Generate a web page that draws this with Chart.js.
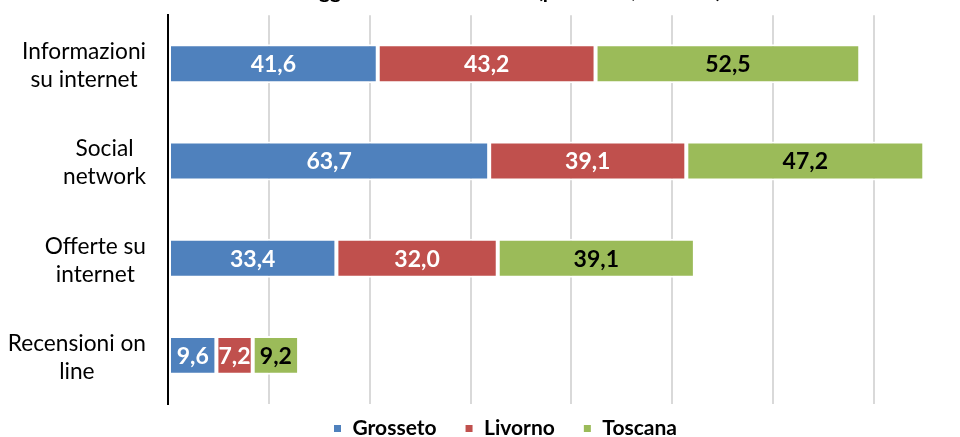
<!DOCTYPE html>
<html>
<head>
<meta charset="utf-8">
<script src="https://cdn.jsdelivr.net/npm/chart.js@4/dist/chart.umd.min.js"></script>
<style>
  html, body { margin: 0; padding: 0; background: #ffffff; overflow: hidden; width: 960px; height: 437px; }
  #wrap { position: absolute; left: 0; top: -30px; width: 1010px; height: 493px; }
  canvas { display: block; }
</style>
</head>
<body>
<div id="wrap"><canvas id="c" width="1010" height="493"></canvas></div>
<script>
const titleText = "Viaggi: strumenti utilizzati (per cento, valori %)";
const categories = [["Informazioni", "su internet"], ["Social", "network"], ["Offerte su", "internet"], ["Recensioni on", "line"]];
const seriesNames = ["Grosseto", "Livorno", "Toscana"];
const grosseto = [41.6, 63.7, 33.4, 9.6];
const livorno = [43.2, 39.1, 32.0, 7.2];
const toscana = [52.5, 47.2, 39.1, 9.2];
const xMin = 0, xMax = 167, xStep = 20;

const colors = ["#4F81BD", "#C0504D", "#9BBB59"];
const labelColors = ["#ffffff", "#ffffff", "#000000"];
const FONT = "Lato, 'Liberation Sans', sans-serif";

const fmt = v => v.toFixed(1).replace('.', ',');

const dataLabels = {
  id: 'dataLabels',
  afterDatasetsDraw(chart) {
    const ctx = chart.ctx;
    ctx.save();
    ctx.font = "bold 23px " + FONT;
    ctx.textAlign = 'center';
    ctx.textBaseline = 'middle';
    chart.data.datasets.forEach((ds, i) => {
      const meta = chart.getDatasetMeta(i);
      meta.data.forEach((el, j) => {
        const cx = (el.x + el.base) / 2;
        ctx.fillStyle = labelColors[i];
        ctx.fillText(fmt(ds.data[j]), cx, el.y + 1);
      });
    });
    ctx.restore();
  }
};

const catLabels = {
  id: 'catLabels',
  afterDraw(chart) {
    const ctx = chart.ctx;
    const yScale = chart.scales.y;
    ctx.save();
    ctx.font = "22.7px " + FONT;
    ctx.fillStyle = '#000000';
    ctx.textAlign = 'center';
    ctx.textBaseline = 'middle';
    const right = 146, lh = 28;
    categories.forEach((lines, i) => {
      const yc = yScale.getPixelForValue(i);
      const w = Math.max(...lines.map(l => ctx.measureText(l).width));
      const cx = right - w / 2;
      const y0 = yc - (lines.length - 1) * lh / 2;
      lines.forEach((l, k) => ctx.fillText(l, cx, y0 + k * lh + 2));
    });
    ctx.restore();
  }
};

const mk = (name, data, i) => ({
  label: name,
  data: data,
  backgroundColor: colors[i],
  borderColor: '#ffffff',
  borderWidth: 2,
  borderSkipped: false,
  barPercentage: 0.40,
  categoryPercentage: 1.0
});

new Chart(document.getElementById('c'), {
  type: 'bar',
  data: {
    labels: categories,
    datasets: [mk(seriesNames[0], grosseto, 0), mk(seriesNames[1], livorno, 1), mk(seriesNames[2], toscana, 2)]
  },
  options: {
    indexAxis: 'y',
    responsive: false,
    animation: false,
    devicePixelRatio: 1,
    layout: { padding: { left: 0, right: 0, top: 0, bottom: 0 } },
    scales: {
      x: {
        stacked: true,
        min: xMin, max: xMax,
        ticks: { display: false, stepSize: xStep },
        grid: { color: '#D9D9D9', lineWidth: 2, drawTicks: false },
        border: { display: false },
        afterFit(s) { s.height = -14; }
      },
      y: {
        stacked: true,
        z: 1,
        ticks: { display: false },
        grid: { display: false, drawTicks: false },
        border: { display: true, color: '#000000', width: 2 },
        afterFit(s) { s.width = 168; }
      }
    },
    plugins: {
      title: {
        display: true,
        text: titleText,
        color: '#000000',
        font: { family: FONT, size: 21, weight: 'bold' },
        padding: { top: 9, bottom: 11 }
      },
      legend: {
        position: 'bottom',
        labels: {
          color: '#000000',
          font: { family: FONT, size: 21, weight: 'bold' },
          boxWidth: 9, boxHeight: 9, padding: 28
        }
      },
      tooltip: { enabled: false }
    }
  },
  plugins: [dataLabels, catLabels]
});
</script>
</body>
</html>
